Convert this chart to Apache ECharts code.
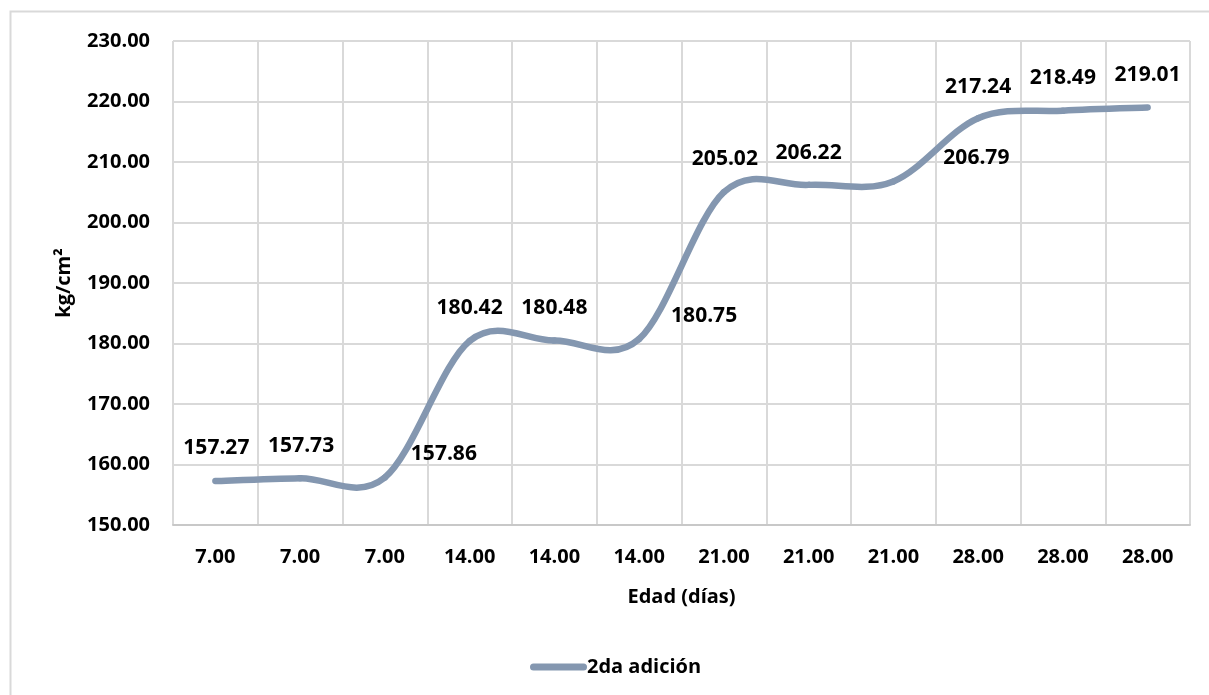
<!DOCTYPE html>
<html>
<head>
<meta charset="utf-8">
<script src="https://cdn.jsdelivr.net/npm/echarts@6/dist/echarts.min.js"></script>
<style>
  html, body { margin: 0; padding: 0; background: #ffffff; }
  #chart { width: 1209px; height: 695px; }
</style>
</head>
<body>
<div id="chart"></div>
<script>
// Edad de ensayo (días) para cada probeta
const ageLabels = ['7.00', '7.00', '7.00', '14.00', '14.00', '14.00',
                   '21.00', '21.00', '21.00', '28.00', '28.00', '28.00'];
// Resistencia a compresión, kg/cm²
const strength2da = [157.27, 157.73, 157.86, 180.42, 180.48, 180.75,
                     205.02, 206.22, 206.79, 217.24, 218.49, 219.01];
// Escala del eje vertical
const yMin = 150;
const yMax = 230;
const yStep = 10;

// Desplazamiento de cada etiqueta respecto a su punto (px)
const labelOffsets = [[1, -33], [1, -32], [59, -23], [0, -33], [0, -33], [65, -23],
                      [1, -33], [0, -32], [83, -23], [0, -31], [0, -33], [0, -32]];

const FONT = '"Open Sans", "Liberation Sans", sans-serif';
const LINE_COLOR = '#8497b0';
const SERIES_NAME = '2da adición';

const chart = echarts.init(document.getElementById('chart'), null, { renderer: 'canvas' });

const points = strength2da.map((v, i) => [i, v]);

function pointAt(api, j) {
  return api.coord([api.value(0, j), api.value(1, j)]);
}

// Curva suavizada (Catmull-Rom) entre el punto i y el siguiente
function renderCurve(params, api) {
  const i = params.dataIndexInside;
  const n = params.dataInsideLength;
  if (i >= n - 1) return null;
  const p0 = pointAt(api, Math.max(i - 1, 0));
  const p1 = pointAt(api, i);
  const p2 = pointAt(api, i + 1);
  const p3 = pointAt(api, Math.min(i + 2, n - 1));
  return {
    type: 'bezierCurve',
    shape: {
      x1: p1[0], y1: p1[1],
      x2: p2[0], y2: p2[1],
      cpx1: p1[0] + (p2[0] - p0[0]) / 6,
      cpy1: p1[1] + (p2[1] - p0[1]) / 6,
      cpx2: p2[0] - (p3[0] - p1[0]) / 6,
      cpy2: p2[1] - (p3[1] - p1[1]) / 6
    },
    style: { stroke: LINE_COLOR, lineWidth: 6.5, lineCap: 'round', fill: null }
  };
}

// Etiqueta de valor de cada punto
function renderLabel(params, api) {
  const i = params.dataIndexInside;
  const p = pointAt(api, i);
  const off = labelOffsets[i];
  return {
    type: 'text',
    x: p[0] + off[0],
    y: p[1] + off[1],
    style: {
      text: api.value(1, i).toFixed(2),
      fill: '#000000',
      font: 'bold 21px ' + FONT,
      align: 'center',
      verticalAlign: 'middle'
    }
  };
}

chart.setOption({
  backgroundColor: '#ffffff',
  animation: false,
  textStyle: { fontFamily: FONT },
  graphic: [{
    type: 'rect',
    shape: { x: 10.5, y: 11.5, width: 1210, height: 700 },
    style: { fill: 'none', stroke: '#d9d9d9', lineWidth: 2 },
    silent: true,
    z: -10
  }],
  grid: { left: 173, right: 19, top: 41, bottom: 170 },
  legend: {
    left: 525,
    top: 652,
    itemWidth: 57,
    itemHeight: 7,
    icon: 'path://M3.5,0 L53.5,0 A3.5,3.5 0 0 1 53.5,7 L3.5,7 A3.5,3.5 0 0 1 3.5,0 Z',
    itemStyle: { color: LINE_COLOR },
    textStyle: { fontFamily: FONT, fontWeight: 'bold', fontSize: 20, color: '#000000', padding: [0, 0, 0, -5] },
    data: [SERIES_NAME]
  },
  xAxis: {
    type: 'category',
    data: ageLabels,
    boundaryGap: true,
    name: 'Edad (días)',
    nameLocation: 'middle',
    nameGap: 62,
    nameTextStyle: { fontFamily: FONT, fontWeight: 'bold', fontSize: 20, color: '#000000' },
    axisLine: { show: true, lineStyle: { color: '#c8c8c8', width: 2 } },
    axisTick: { show: false },
    axisLabel: { fontFamily: FONT, fontWeight: 'bold', fontSize: 20, color: '#000000', margin: 22, interval: 0 },
    splitLine: { show: true, interval: 0, lineStyle: { color: '#d9d9d9', width: 2 } }
  },
  yAxis: {
    type: 'value',
    min: yMin,
    max: yMax,
    interval: yStep,
    name: 'kg/cm²',
    nameLocation: 'middle',
    nameRotate: 90,
    nameGap: 99,
    nameTextStyle: { fontFamily: FONT, fontWeight: 'bold', fontSize: 20, color: '#000000' },
    axisLine: { show: false },
    axisTick: { show: false },
    axisLabel: {
      fontFamily: FONT, fontWeight: 'bold', fontSize: 20, color: '#000000', margin: 23,
      formatter: v => v.toFixed(2)
    },
    splitLine: { show: true, lineStyle: { color: '#d9d9d9', width: 2 } }
  },
  series: [{
    name: SERIES_NAME,
    type: 'custom',
    renderItem: renderCurve,
    encode: { x: 0, y: 1 },
    itemStyle: { color: LINE_COLOR },
    data: points,
    z: 2
  }, {
    name: 'valores',
    type: 'custom',
    renderItem: renderLabel,
    encode: { x: 0, y: 1 },
    data: points,
    z: 3
  }]
});
</script>
</body>
</html>
